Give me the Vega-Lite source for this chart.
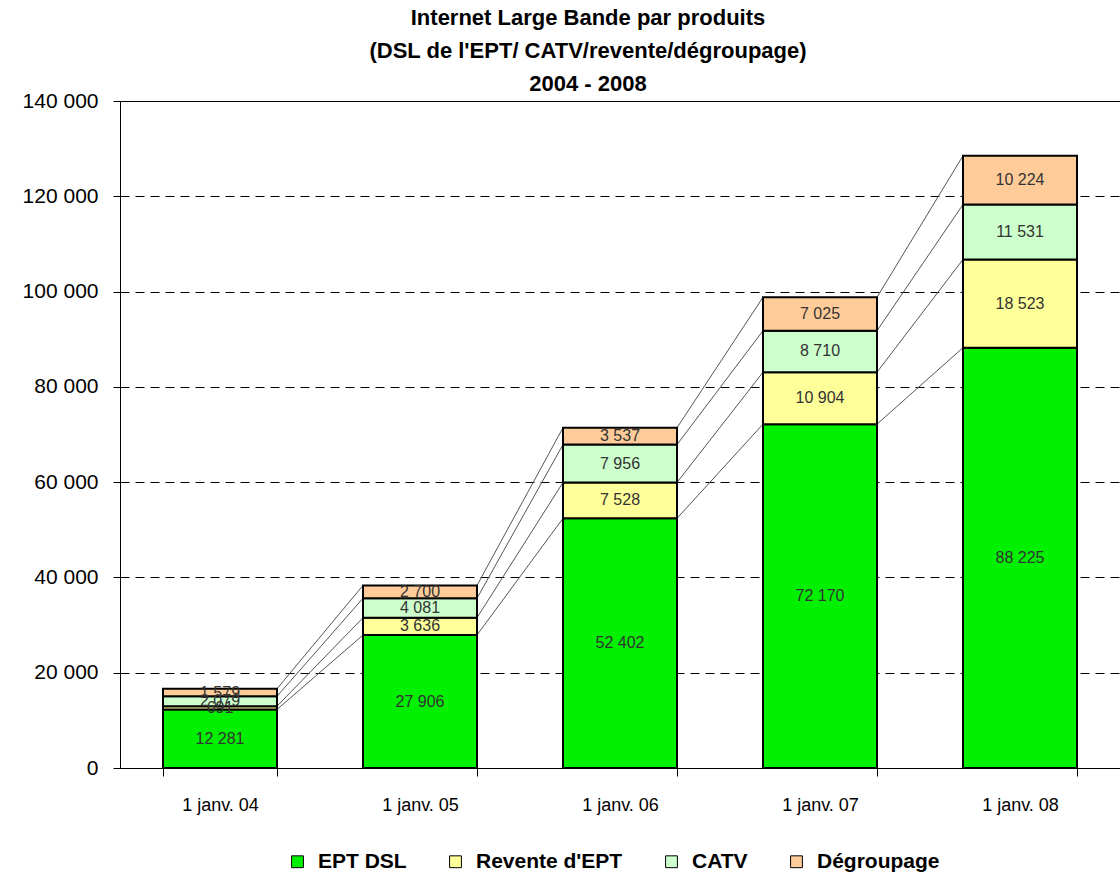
{
  "$schema": "https://vega.github.io/schema/vega-lite/v6.json",
  "autosize": {"type": "none"},
  "padding": {"left": 120, "top": 101, "right": 0, "bottom": 114},
  "width": 1000,
  "height": 667,
  "background": "white",
  "title": {
    "text": ["Internet Large Bande par produits", "(DSL de l'EPT/ CATV/revente/dégroupage)", "2004 - 2008"],
    "fontSize": 22,
    "fontWeight": "bold",
    "font": "Liberation Sans",
    "lineHeight": 33,
    "color": "black",
    "anchor": "middle",
    "dx": -32,
    "offset": -6
  },
  "datasets": {
    "bars": [
      {"date": "1 janv. 04", "product": "EPT DSL", "k": 1, "value": 12281},
      {"date": "1 janv. 04", "product": "Revente d'EPT", "k": 2, "value": 691},
      {"date": "1 janv. 04", "product": "CATV", "k": 3, "value": 2079},
      {"date": "1 janv. 04", "product": "Dégroupage", "k": 4, "value": 1579},
      {"date": "1 janv. 05", "product": "EPT DSL", "k": 1, "value": 27906},
      {"date": "1 janv. 05", "product": "Revente d'EPT", "k": 2, "value": 3636},
      {"date": "1 janv. 05", "product": "CATV", "k": 3, "value": 4081},
      {"date": "1 janv. 05", "product": "Dégroupage", "k": 4, "value": 2700},
      {"date": "1 janv. 06", "product": "EPT DSL", "k": 1, "value": 52402},
      {"date": "1 janv. 06", "product": "Revente d'EPT", "k": 2, "value": 7528},
      {"date": "1 janv. 06", "product": "CATV", "k": 3, "value": 7956},
      {"date": "1 janv. 06", "product": "Dégroupage", "k": 4, "value": 3537},
      {"date": "1 janv. 07", "product": "EPT DSL", "k": 1, "value": 72170},
      {"date": "1 janv. 07", "product": "Revente d'EPT", "k": 2, "value": 10904},
      {"date": "1 janv. 07", "product": "CATV", "k": 3, "value": 8710},
      {"date": "1 janv. 07", "product": "Dégroupage", "k": 4, "value": 7025},
      {"date": "1 janv. 08", "product": "EPT DSL", "k": 1, "value": 88225},
      {"date": "1 janv. 08", "product": "Revente d'EPT", "k": 2, "value": 18523},
      {"date": "1 janv. 08", "product": "CATV", "k": 3, "value": 11531},
      {"date": "1 janv. 08", "product": "Dégroupage", "k": 4, "value": 10224}
    ],
    "links": [
      {"from": "1 janv. 04", "to": "1 janv. 05", "y1": 12281, "y2": 27906},
      {"from": "1 janv. 04", "to": "1 janv. 05", "y1": 12972, "y2": 31542},
      {"from": "1 janv. 04", "to": "1 janv. 05", "y1": 15051, "y2": 35623},
      {"from": "1 janv. 04", "to": "1 janv. 05", "y1": 16630, "y2": 38323},
      {"from": "1 janv. 05", "to": "1 janv. 06", "y1": 27906, "y2": 52402},
      {"from": "1 janv. 05", "to": "1 janv. 06", "y1": 31542, "y2": 59930},
      {"from": "1 janv. 05", "to": "1 janv. 06", "y1": 35623, "y2": 67886},
      {"from": "1 janv. 05", "to": "1 janv. 06", "y1": 38323, "y2": 71423},
      {"from": "1 janv. 06", "to": "1 janv. 07", "y1": 52402, "y2": 72170},
      {"from": "1 janv. 06", "to": "1 janv. 07", "y1": 59930, "y2": 83074},
      {"from": "1 janv. 06", "to": "1 janv. 07", "y1": 67886, "y2": 91784},
      {"from": "1 janv. 06", "to": "1 janv. 07", "y1": 71423, "y2": 98809},
      {"from": "1 janv. 07", "to": "1 janv. 08", "y1": 72170, "y2": 88225},
      {"from": "1 janv. 07", "to": "1 janv. 08", "y1": 83074, "y2": 106748},
      {"from": "1 janv. 07", "to": "1 janv. 08", "y1": 91784, "y2": 118279},
      {"from": "1 janv. 07", "to": "1 janv. 08", "y1": 98809, "y2": 128503}
    ]
  },
  "layer": [
    {
      "data": {"name": "links"},
      "mark": {"type": "rule", "color": "#555555", "strokeWidth": 1},
      "encoding": {
        "x": {"field": "from", "type": "ordinal", "bandPosition": 1},
        "x2": {"field": "to", "bandPosition": 0},
        "y": {"field": "y1", "type": "quantitative"},
        "y2": {"field": "y2"}
      }
    },
    {
      "data": {"name": "bars"},
      "mark": {"type": "bar", "stroke": "black", "strokeWidth": 2},
      "encoding": {
        "x": {
          "field": "date",
          "type": "ordinal",
          "scale": {"paddingInner": 0.43, "paddingOuter": 0.215},
          "axis": {
            "title": null,
            "labelAngle": 0,
            "labelAlign": "center",
            "labelFontSize": 18,
            "labelFont": "Liberation Sans",
            "labelColor": "black",
            "tickBand": "extent",
            "tickSize": 8,
            "tickColor": "black",
            "domainColor": "black",
            "labelPadding": 29,
            "grid": false
          }
        },
        "y": {
          "field": "value",
          "type": "quantitative",
          "stack": "zero",
          "scale": {"domain": [0, 140000], "nice": false},
          "axis": {
            "title": null,
            "values": [0, 20000, 40000, 60000, 80000, 100000, 120000, 140000],
            "format": ",d",
            "labelFontSize": 21,
            "labelFont": "Liberation Sans",
            "labelColor": "black",
            "tickSize": 7,
            "tickColor": "black",
            "labelPadding": 15,
            "domainColor": "black",
            "grid": true,
            "gridColor": "black",
            "gridDash": [9, 6],
            "gridOpacity": 1,
            "gridWidth": 1
          }
        },
        "color": {
          "field": "product",
          "type": "nominal",
          "sort": ["EPT DSL", "Revente d'EPT", "CATV", "Dégroupage"],
          "scale": {
            "domain": ["EPT DSL", "Revente d'EPT", "CATV", "Dégroupage"],
            "range": ["#00f000", "#ffff99", "#ccffcc", "#ffcc99"]
          },
          "legend": {
            "title": null,
            "orient": "none",
            "legendX": 167,
            "legendY": 750,
            "direction": "horizontal",
            "symbolType": "square",
            "symbolSize": 140,
            "symbolStrokeColor": "black",
            "symbolStrokeWidth": 1,
            "symbolOpacity": 1,
            "labelFontSize": 21,
            "labelFontWeight": "bold",
            "labelFont": "Liberation Sans",
            "labelColor": "black",
            "columnPadding": 38,
            "labelOffset": 10
          }
        },
        "order": {"field": "k", "type": "quantitative"}
      }
    },
    {
      "data": {"name": "bars"},
      "transform": [
        {"stack": "value", "groupby": ["date"], "sort": [{"field": "k"}], "as": ["v0", "v1"]},
        {"calculate": "(datum.v0 + datum.v1) / 2", "as": "mid"}
      ],
      "mark": {"type": "text", "fontSize": 16, "font": "Liberation Sans", "color": "#333333", "baseline": "middle"},
      "encoding": {
        "x": {"field": "date", "type": "ordinal"},
        "y": {"field": "mid", "type": "quantitative"},
        "text": {"field": "value", "type": "quantitative", "format": ",d"}
      }
    }
  ],
  "config": {
    "locale": {
      "number": {"decimal": ",", "thousands": " ", "grouping": [3], "currency": ["", " €"]}
    },
    "view": {"stroke": "black", "strokeWidth": 1}
  }
}
